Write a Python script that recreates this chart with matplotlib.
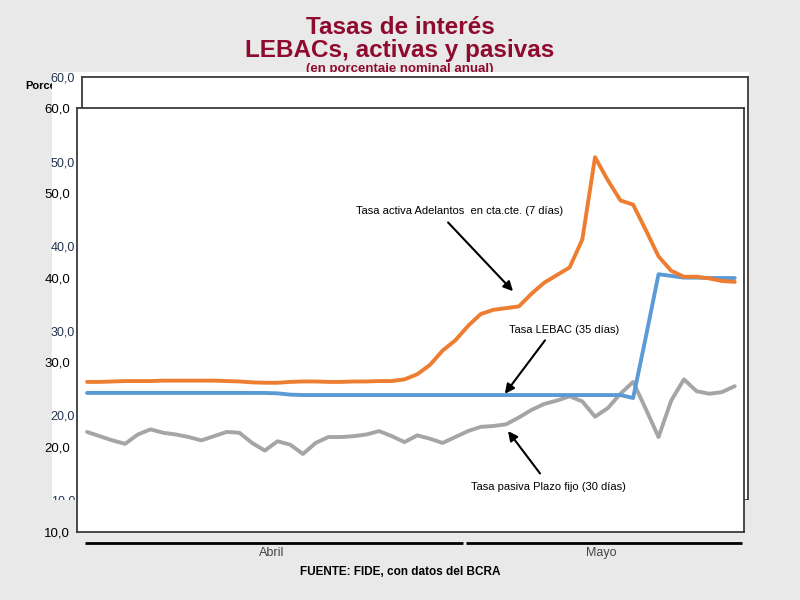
import matplotlib
matplotlib.use('Agg')
import matplotlib.pyplot as plt
from matplotlib.patches import Rectangle
from matplotlib.transforms import blended_transform_factory, Bbox

# ---- data (x = calendar day index, 0 = 1 de abril) ----
days = list(range(52))
months = ['Abril', 'Mayo']
month_first_day = [0, 30]
month_last_day = [29, 51]

activa = [27.7, 27.7, 27.75, 27.8, 27.8, 27.8, 27.85, 27.85, 27.85, 27.85,
          27.85, 27.8, 27.75, 27.65, 27.6, 27.6, 27.7, 27.75, 27.75, 27.7,
          27.7, 27.75, 27.75, 27.8, 27.8, 28.0, 28.6, 29.7, 31.4, 32.6,
          34.3, 35.7, 36.2, 36.4, 36.6, 38.1, 39.4, 40.3, 41.2, 44.5,
          54.2, 51.5, 49.1, 48.6, 45.6, 42.5, 40.8, 40.1, 40.1, 39.9,
          39.6, 39.5]
lebac = [26.4] * 15 + [26.35, 26.2] + [26.15] * 26 + \
        [25.8, 33.0, 40.4, 40.2, 40.0, 40.0, 39.95, 39.95, 39.95]
pasiva = [21.8, 21.3, 20.8, 20.4, 21.5, 22.1, 21.7, 21.5, 21.2, 20.8,
          21.3, 21.8, 21.7, 20.5, 19.6, 20.7, 20.3, 19.2, 20.5, 21.2,
          21.2, 21.3, 21.5, 21.9, 21.3, 20.6, 21.4, 21.0, 20.5, 21.2,
          21.9, 22.4, 22.5, 22.7, 23.5, 24.4, 25.1, 25.5, 26.0, 25.4,
          23.6, 24.6, 26.3, 27.7, 24.5, 21.2, 25.5, 28.0, 26.6, 26.3,
          26.5, 27.2]

yticks = [10, 20, 30, 40, 50, 60]
ytick_labels = ['10,0', '20,0', '30,0', '40,0', '50,0', '60,0']

label_activa = 'Tasa activa Adelantos  en cta.cte. (7 días)'
label_lebac = 'Tasa LEBAC (35 días)'
label_pasiva = 'Tasa pasiva Plazo fijo (30 días)'

# ---- style ----
BG = '#e9e9e9'
TITLE_C = '#8e0b2f'
SANS = ['Liberation Sans', 'DejaVu Sans']
plt.rcParams['font.family'] = SANS

fig = plt.figure(figsize=(8, 6), dpi=100, facecolor=BG)

# titles (subtitle partially hidden by the white panel)
fig.text(0.5, 1 - 28 / 600, 'Tasas de interés', ha='center', va='center',
         fontsize=17.5, fontweight='bold', color=TITLE_C, zorder=0.3)
fig.text(0.5, 1 - 50 / 600, 'LEBACs, activas y pasivas', ha='center', va='center',
         fontsize=17.5, fontweight='bold', color=TITLE_C, zorder=0.3)
fig.text(0.5, 1 - 69 / 600, '(en porcentaje nominal anual)', ha='center', va='center',
         fontsize=9.5, fontweight='bold', color=TITLE_C, zorder=0.3)
porc = fig.text(25 / 800, 1 - 86 / 600, 'Porcentaje', ha='left', va='center',
                fontsize=8, fontweight='bold', color='black', zorder=0.3)
porc.set_clip_box(Bbox.from_extents(0, 0, 52, 600))
porc.set_clip_on(True)

# white panel
fig.patches.append(Rectangle((52 / 800, 1 - 500 / 600), (749 - 52) / 800, (500 - 72) / 600,
                             transform=fig.transFigure, facecolor='white',
                             edgecolor='none', zorder=0.5))

# back (ghost) axes
axb = fig.add_axes([82 / 800, 1 - 500 / 600, (748 - 82) / 800, (500 - 77) / 600], zorder=1)
axb.set_ylim(10, 60)
axb.set_xlim(0, 1)
axb.set_yticks(yticks)
axb.set_yticklabels(ytick_labels, color='#22334f', fontsize=9)
axb.set_xticks([])
axb.tick_params(axis='y', length=0, pad=5)
for s in axb.spines.values():
    s.set_color('#3a3a3a')
    s.set_linewidth(1.3)
axb.set_facecolor('white')

# gray cover below the white panel (clips ghost labels)
fig.patches.append(Rectangle((0, 0), 1, 100 / 600, transform=fig.transFigure,
                             facecolor=BG, edgecolor='none', zorder=1.5))

# front axes
ax = fig.add_axes([77 / 800, 1 - 532 / 600, (744 - 77) / 800, (532 - 108) / 600], zorder=2)
ax.set_facecolor('white')
ax.set_xlim(-0.79, 51.73)
ax.set_ylim(10, 60)
ax.set_yticks(yticks)
ax.set_yticklabels(ytick_labels, fontsize=9.5, color='black')
ax.set_xticks([])
ax.tick_params(axis='y', length=0, pad=5)
for s in ax.spines.values():
    s.set_color('#3a3a3a')
    s.set_linewidth(1.3)

lw = 2.8
ax.plot(days, pasiva, color='#a5a5a5', lw=lw, solid_joinstyle='round', solid_capstyle='round')
ax.plot(days, lebac, color='#5b9bd5', lw=lw, solid_joinstyle='round', solid_capstyle='round')
ax.plot(days, activa, color='#ed7d31', lw=lw, solid_joinstyle='round', solid_capstyle='round')

# annotations
arrow = dict(arrowstyle='-|>', lw=1.5, color='black', mutation_scale=14, shrinkA=0, shrinkB=0)
ax.text(29.3, 47.9, label_activa, ha='center', va='center', fontsize=8)
ax.annotate('', xy=(33.54, 38.4), xytext=(28.43, 46.5), arrowprops=arrow)
ax.text(37.6, 33.8, label_lebac, ha='center', va='center', fontsize=8)
ax.annotate('', xy=(32.9, 26.3), xytext=(36.06, 32.6), arrowprops=arrow)
ax.text(36.3, 15.3, label_pasiva, ha='center', va='center', fontsize=8)
ax.annotate('', xy=(33.15, 21.9), xytext=(35.67, 16.9), arrowprops=arrow)

# month bands below the axes
tr = blended_transform_factory(ax.transData, fig.transFigure)
for name, d0, d1 in zip(months, month_first_day, month_last_day):
    ax.plot([d0 - 0.15, d1 + 0.6], [1 - 543 / 600] * 2, transform=tr, color='black',
            lw=2, clip_on=False, zorder=3, solid_capstyle='butt')
    ax.text((d0 + d1) / 2, 1 - 553 / 600, name, transform=tr, ha='center', va='center',
            fontsize=9, color='#444444', clip_on=False, zorder=3)

fig.text(0.5, 1 - 572 / 600, 'FUENTE: FIDE, con datos del BCRA', ha='center', va='center',
         fontsize=8.5, fontweight='bold', color='black', zorder=3)

fig.savefig('out.png', dpi=100, facecolor=BG)
